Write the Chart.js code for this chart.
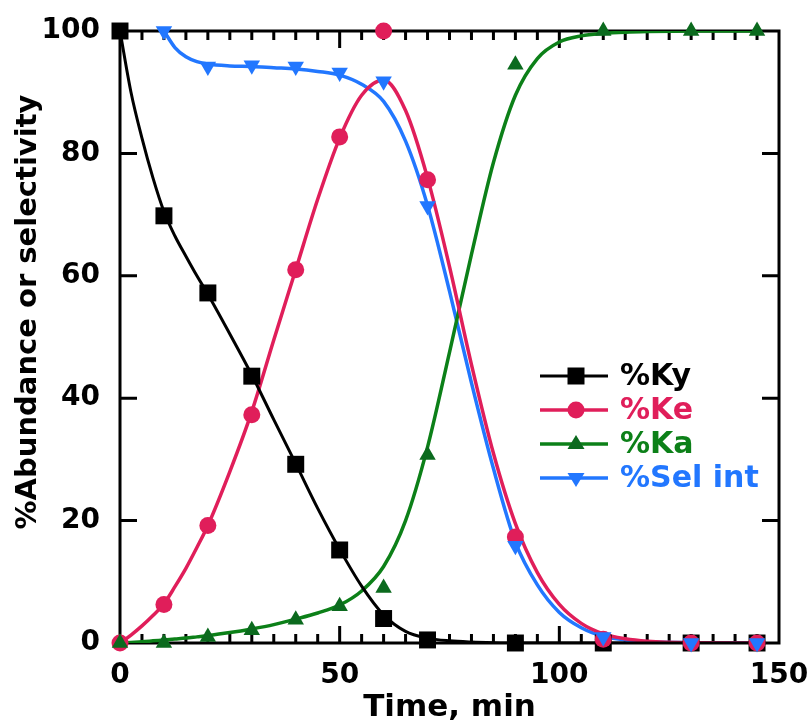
<!DOCTYPE html>
<html>
<head>
<meta charset="utf-8">
<script src="https://cdn.jsdelivr.net/npm/chart.js@4.4.0/dist/chart.umd.min.js"></script>
<style>
  html, body { margin: 0; padding: 0; background: #fff; }
  canvas { display: block; }
</style>
</head>
<body>
<canvas id="kineticsChart" width="809" height="727"></canvas>
<script>
// measured points
const timePts = [0, 10, 20, 30, 40, 50, 60, 70, 90, 110, 130, 145];
const kyPts = [100, 69.8, 57.2, 43.6, 29.2, 15.2, 4.0, 0.5, 0, 0, 0, 0];
const kePts = [0, 6.3, 19.2, 37.3, 61.0, 82.7, 100, 75.7, 17.3, 0.6, 0, 0];
const kaPts = [0, 0, 1.0, 2.1, 3.8, 6.0, 9.0, 30.7, 94.5, 100, 100, 100];
const selTimePts = [10, 20, 30, 40, 50, 60, 70, 90, 110, 130, 145];
const selPts = [100, 94.2, 94.4, 94.2, 93.2, 91.8, 71.4, 15.9, 1.0, 0, 0];

// fitted curves
const fitTime = [0, 2.5, 5, 7.5, 10, 12.5, 15, 17.5, 20, 25, 30, 35, 40, 45, 50, 55, 60, 65, 70, 75, 80, 85, 90, 95, 100, 105, 110, 115, 120, 130, 145];
const kyFit = [100, 90, 82.5, 76, 70.5, 66.5, 63.2, 60, 57, 50.5, 43.8, 36.5, 29.3, 22, 15.3, 9.3, 4.6, 1.9, 0.8, 0.35, 0.15, 0.05, 0, 0, 0, 0, 0, 0, 0, 0, 0];
const keFit = [0, 1.3, 2.8, 4.5, 6.4, 9.2, 12.2, 15.6, 19.2, 28, 37.8, 49.5, 61, 72.5, 82.5, 89.5, 92, 87, 76, 61.5, 45.5, 31, 19.5, 11.5, 6.3, 3.2, 1.5, 0.7, 0.3, 0.05, 0];
const kaFit = [0, 0.1, 0.2, 0.35, 0.5, 0.65, 0.8, 1.0, 1.2, 1.7, 2.3, 3, 3.9, 4.9, 6.2, 8.5, 12.5, 20, 32, 47.5, 63.5, 78.5, 89.5, 95.5, 98.2, 99.2, 99.6, 99.8, 99.9, 100, 100];
const selFit = [null, null, null, null, 100, 97.3, 95.8, 95.0, 94.6, 94.3, 94.2, 94.0, 93.8, 93.4, 92.8, 91.3, 88.5, 82, 71.5, 57.5, 42.5, 28.5, 16.5, 9.5, 5, 2.5, 1.1, 0.5, 0.2, 0.05, 0];

const seriesNames = ['%Ky', '%Ke', '%Ka', '%Sel int'];
const lineColors = ['#000000', '#e01e5a', '#0c8018', '#2277ff'];
const markerColors = ['#000000', '#e01e5a', '#0b6a1e', '#2277ff'];
const lineWidths = [3, 3.5, 3.5, 3.5];

const FONT = '"DejaVu Sans", Verdana, sans-serif';

const toXY = (xs, ys) => xs.map((x, i) => ({ x: x, y: ys[i] }));

function curve(xs, ys, i) {
  return {
    label: seriesNames[i] + ' fit',
    data: toXY(xs, ys),
    showLine: true,
    borderColor: lineColors[i],
    borderWidth: lineWidths[i],
    pointRadius: 0,
    cubicInterpolationMode: 'monotone',
    spanGaps: false,
    order: 10
  };
}

function markers(xs, ys, i, style, radius, rotation) {
  return {
    label: seriesNames[i],
    data: toXY(xs, ys),
    showLine: false,
    pointStyle: style,
    pointRadius: radius,
    pointRotation: rotation || 0,
    pointBackgroundColor: markerColors[i],
    pointBorderColor: markerColors[i],
    pointBorderWidth: 0,
    clip: false,
    order: 5 - i
  };
}

// frame with inward ticks on all four sides, y title and legend
const framePlugin = {
  id: 'frame',
  beforeDatasetsDraw(chart) {
    const { ctx, chartArea: a, scales: { x, y } } = chart;
    ctx.save();
    ctx.strokeStyle = '#000';
    ctx.lineWidth = 3;
    ctx.beginPath();
    for (let t = 5; t < 150; t += 5) {
      const px = x.getPixelForValue(t);
      const len = t % 50 === 0 ? 17 : 9;
      ctx.moveTo(px, a.bottom); ctx.lineTo(px, a.bottom - len);
      ctx.moveTo(px, a.top); ctx.lineTo(px, a.top + len);
    }
    for (let v = 20; v < 100; v += 20) {
      const py = y.getPixelForValue(v);
      ctx.moveTo(a.left, py); ctx.lineTo(a.left + 17, py);
      ctx.moveTo(a.right, py); ctx.lineTo(a.right - 17, py);
    }
    ctx.stroke();
    ctx.strokeRect(a.left, a.top, a.right - a.left, a.bottom - a.top);
    ctx.restore();
  },
  afterDraw(chart) {
    const ctx = chart.ctx;
    ctx.save();
    ctx.translate(28, 312);
    ctx.rotate(-Math.PI / 2);
    ctx.font = 'bold 29px ' + FONT;
    ctx.fillStyle = '#000';
    ctx.textAlign = 'center';
    ctx.textBaseline = 'middle';
    ctx.fillText('%Abundance or selectivity', 0, 0);
    ctx.restore();

    const rowY = [376, 410, 444, 478];
    ctx.save();
    ctx.font = 'bold 30px ' + FONT;
    ctx.textAlign = 'left';
    ctx.textBaseline = 'middle';
    seriesNames.forEach((name, i) => {
      const yy = rowY[i];
      ctx.strokeStyle = lineColors[i];
      ctx.lineWidth = lineWidths[i];
      ctx.beginPath();
      ctx.moveTo(540, yy); ctx.lineTo(608, yy);
      ctx.stroke();
      ctx.fillStyle = markerColors[i];
      const cx = 576;
      ctx.beginPath();
      if (i === 0) {
        ctx.rect(cx - 8.5, yy - 8.5, 17, 17);
      } else if (i === 1) {
        ctx.arc(cx, yy, 8.5, 0, Math.PI * 2);
      } else if (i === 2) {
        ctx.moveTo(cx, yy - 9); ctx.lineTo(cx + 8.5, yy + 5); ctx.lineTo(cx - 8.5, yy + 5);
      } else {
        ctx.moveTo(cx, yy + 9); ctx.lineTo(cx + 8.5, yy - 5); ctx.lineTo(cx - 8.5, yy - 5);
      }
      ctx.closePath();
      ctx.fill();
      ctx.fillStyle = lineColors[i];
      ctx.fillText(name, 620, yy + 1);
    });
    ctx.restore();
  }
};

const ctx = document.getElementById('kineticsChart').getContext('2d');

const kineticsChart = new Chart(ctx, {
  type: 'scatter',
  data: {
    datasets: [
      curve(fitTime, kyFit, 0),
      curve(fitTime, keFit, 1),
      curve(fitTime, kaFit, 2),
      curve(fitTime, selFit, 3),
      markers(timePts, kyPts, 0, 'rect', 12),
      markers(timePts, kePts, 1, 'circle', 8.5),
      markers(timePts, kaPts, 2, 'triangle', 9.5),
      markers(selTimePts, selPts, 3, 'triangle', 9.5, 180)
    ]
  },
  options: {
    responsive: false,
    animation: false,
    layout: { padding: { top: 31, right: 30, left: 0, bottom: 0 } },
    plugins: {
      legend: { display: false },
      tooltip: { enabled: false }
    },
    scales: {
      x: {
        type: 'linear',
        min: 0,
        max: 150,
        grid: { display: false, drawTicks: false },
        border: { display: false },
        ticks: {
          stepSize: 50,
          padding: 16,
          color: '#000',
          font: { family: FONT, size: 28, weight: 'bold' }
        },
        title: {
          display: true,
          text: 'Time, min',
          color: '#000',
          padding: 0,
          font: { family: FONT, size: 31, weight: 'bold' }
        },
        afterFit: s => { s.height = 84; s.paddingLeft = 0; s.paddingRight = 0; }
      },
      y: {
        min: 0,
        max: 100,
        grid: { display: false, drawTicks: false },
        border: { display: false },
        ticks: {
          stepSize: 20,
          padding: 20,
          color: '#000',
          font: { family: FONT, size: 28, weight: 'bold' }
        },
        afterFit: s => { s.width = 120; s.paddingTop = 0; s.paddingBottom = 0; }
      }
    }
  },
  plugins: [framePlugin]
});
</script>
</body>
</html>
